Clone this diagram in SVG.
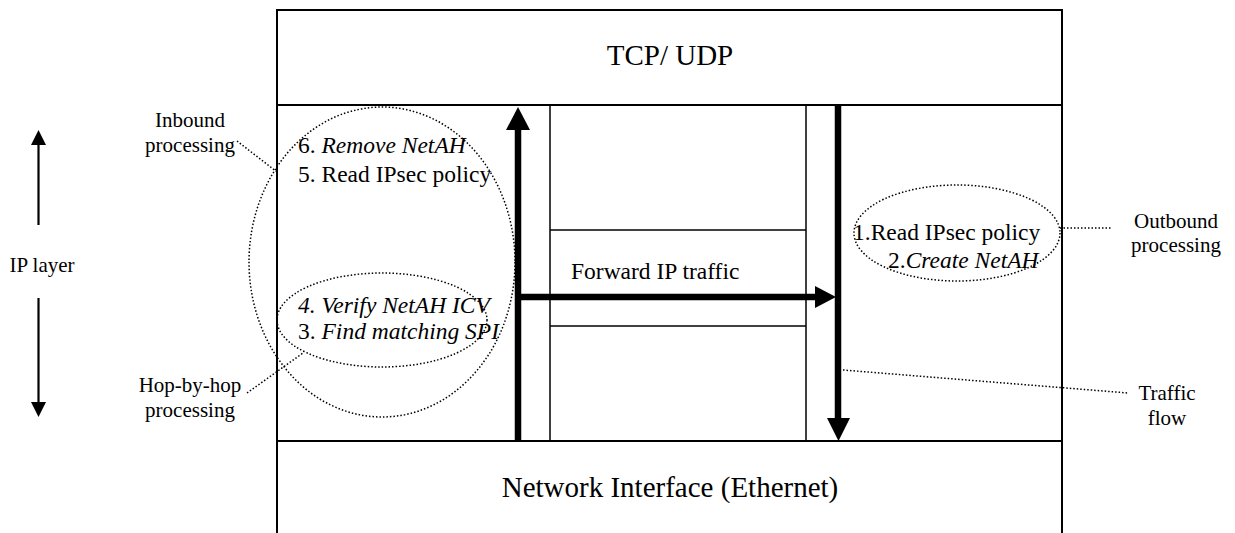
<svg xmlns="http://www.w3.org/2000/svg" width="1235" height="533" viewBox="0 0 1235 533">
<style>
text{font-family:"Liberation Serif","Times New Roman",serif;fill:#000}
.big{font-size:29px}
.mid{font-size:23.5px}
.lab{font-size:21px}
.it{font-style:italic}
.frame{fill:none;stroke:#000;stroke-width:2}
.thin{fill:none;stroke:#000;stroke-width:1.5}
.dot{fill:none;stroke:#000;stroke-width:1.5;stroke-dasharray:1.5 2}
.thick{stroke:#000;stroke-width:6.5;fill:none}
.head{fill:#000}
</style>
<rect width="1235" height="533" fill="#fff"/>
<g id="tcp-udp">
<path class="frame" d="M277,545 V10 H1062 V545"/>
<line class="frame" x1="277" y1="105" x2="1062" y2="105"/>
<text class="big" x="670" y="65" text-anchor="middle">TCP/ UDP</text>
</g>
<g id="ip-layer-box">
<line class="thin" x1="550" y1="105" x2="550" y2="441"/>
<line class="thin" x1="806" y1="105" x2="806" y2="441"/>
</g>
<g id="forward-box">
<line class="thin" x1="550" y1="230" x2="806" y2="230"/>
<line class="thin" x1="550" y1="326" x2="806" y2="326"/>
<text class="mid" x="571" y="279">Forward IP traffic</text>
</g>
<g id="network-interface">
<line class="frame" x1="277" y1="441" x2="1062" y2="441"/>
<text class="big" x="670" y="497" text-anchor="middle">Network Interface (Ethernet)</text>
</g>
<g id="inbound">
<ellipse class="dot" cx="382" cy="262" rx="133" ry="155"/>
<text class="mid" x="298" y="153">6. <tspan class="it">Remove NetAH</tspan></text>
<text class="mid" x="298" y="182">5. Read IPsec policy</text>
</g>
<g id="hop-by-hop">
<ellipse class="dot" cx="382" cy="320" rx="105" ry="47"/>
<text class="mid it" x="298" y="313">4. Verify NetAH ICV</text>
<text class="mid" x="298" y="339">3. <tspan class="it">Find matching SPI</tspan></text>
</g>
<g id="outbound">
<ellipse class="dot" cx="957" cy="233" rx="103" ry="48"/>
<text class="mid" x="853" y="240">1.Read IPsec policy</text>
<text class="mid" x="888" y="268">2.<tspan class="it">Create NetAH</tspan></text>
</g>
<g id="label-ip-layer">
<text class="lab" x="42" y="272" text-anchor="middle">IP layer</text>
</g>
<g id="label-inbound">
<text class="lab" x="190" y="127" text-anchor="middle">Inbound</text>
<text class="lab" x="190" y="152" text-anchor="middle">processing</text>
</g>
<g id="label-hop">
<text class="lab" x="190" y="392" text-anchor="middle">Hop-by-hop</text>
<text class="lab" x="190" y="417" text-anchor="middle">processing</text>
</g>
<g id="label-outbound">
<text class="lab" x="1176" y="228" text-anchor="middle">Outbound</text>
<text class="lab" x="1176" y="252" text-anchor="middle">processing</text>
</g>
<g id="label-traffic">
<text class="lab" x="1167" y="400" text-anchor="middle">Traffic</text>
<text class="lab" x="1167" y="425" text-anchor="middle">flow</text>
</g>
<g id="connectors">
<line class="thick" x1="518" y1="441" x2="518" y2="127"/>
<polygon class="head" points="518,107 506,130 530,130"/>
<line class="thick" x1="838" y1="105" x2="838" y2="420"/>
<polygon class="head" points="827,418 850,418 838.5,441"/>
<line class="thick" x1="518" y1="297" x2="817" y2="297"/>
<polygon class="head" points="815,286 815,308 836,297"/>
<line stroke="#000" stroke-width="2.2" x1="38.5" y1="225" x2="38.5" y2="143"/>
<polygon class="head" points="31,145 46,145 38.5,130"/>
<line stroke="#000" stroke-width="2.2" x1="38.5" y1="298" x2="38.5" y2="404"/>
<polygon class="head" points="31,402 46,402 38.5,417"/>
<line class="dot" x1="237" y1="141" x2="277" y2="172"/>
<line class="dot" x1="247" y1="393" x2="303" y2="353"/>
<line class="dot" x1="1060" y1="228" x2="1112" y2="228"/>
<line class="dot" x1="843" y1="370" x2="1128" y2="393"/>
</g>
</svg>
